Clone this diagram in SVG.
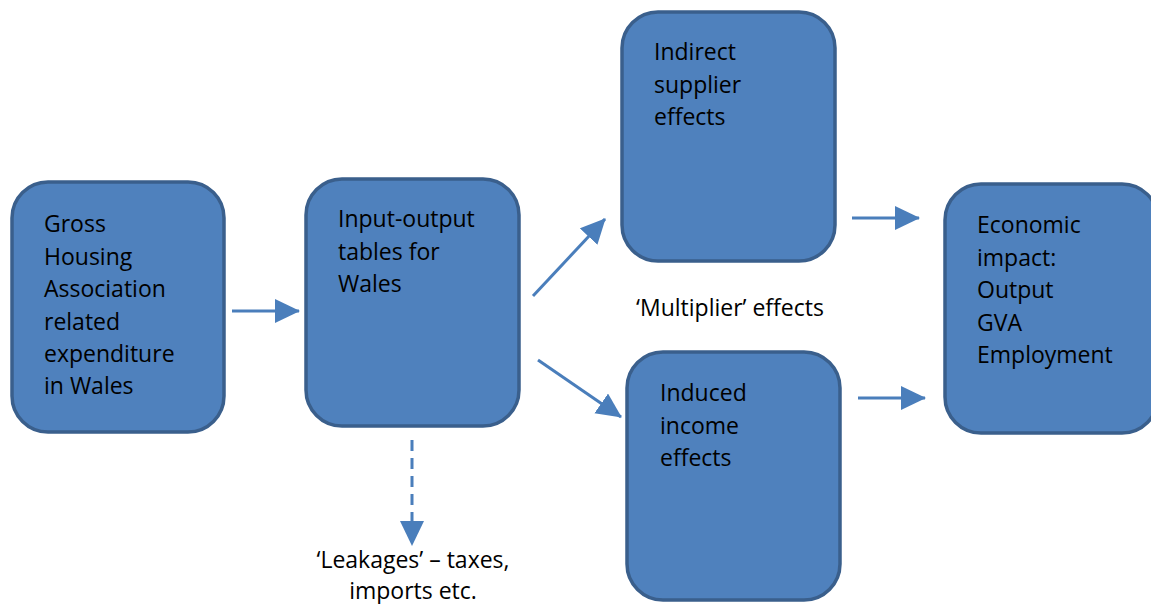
<svg xmlns="http://www.w3.org/2000/svg" width="1151" height="604" viewBox="0 0 1151 604">
<style>
.box{fill:#4F81BD;stroke:#3A5F8C;stroke-width:3.5}
.t{font-family:"Open Sans","Liberation Sans",sans-serif;font-size:23px;fill:#000}
.c{stroke:#4A7EBB;stroke-width:3;fill:none}
</style>
<defs>
<marker id="ah" markerUnits="userSpaceOnUse" markerWidth="26" markerHeight="26" refX="24" refY="12" orient="auto" viewBox="0 0 26 26">
<path d="M0,0 L25,12 L0,24 z" fill="#4A7EBB"/>
</marker>
</defs>
<rect width="1151" height="604" fill="#fff"/>
<g id="connectors">
<line class="c" x1="232" y1="311" x2="299" y2="311" marker-end="url(#ah)"/>
<line class="c" x1="533" y1="296" x2="605" y2="219" marker-end="url(#ah)"/>
<line class="c" x1="538" y1="360" x2="621" y2="417" marker-end="url(#ah)"/>
<line class="c" x1="852" y1="218" x2="919" y2="218" marker-end="url(#ah)"/>
<line class="c" x1="858" y1="398" x2="925" y2="398" marker-end="url(#ah)"/>
<line class="c" x1="412" y1="440" x2="412" y2="522" stroke-dasharray="11 7"/>
<path d="M400,521 L424,521 L412,546 z" fill="#4A7EBB"/>
</g>
<g id="gross">
<rect class="box" x="12" y="182" width="212" height="250" rx="36"/>
<text class="t"><tspan x="44" y="232">Gross</tspan><tspan x="44" y="264.5">Housing</tspan><tspan x="44" y="297">Association</tspan><tspan x="44" y="329.5">related</tspan><tspan x="44" y="362">expenditure</tspan><tspan x="44" y="394">in Wales</tspan></text>
</g>
<g id="io">
<rect class="box" x="306" y="179" width="213" height="247" rx="36"/>
<text class="t"><tspan x="338" y="227">Input-output</tspan><tspan x="338" y="259.5">tables for</tspan><tspan x="338" y="292">Wales</tspan></text>
</g>
<g id="indirect">
<rect class="box" x="622" y="12" width="213" height="249" rx="36"/>
<text class="t"><tspan x="654" y="60">Indirect</tspan><tspan x="654" y="92.5">supplier</tspan><tspan x="654" y="125">effects</tspan></text>
</g>
<g id="induced">
<rect class="box" x="627" y="352" width="213" height="248" rx="36"/>
<text class="t"><tspan x="660" y="401">Induced</tspan><tspan x="660" y="433.5">income</tspan><tspan x="660" y="466">effects</tspan></text>
</g>
<g id="impact">
<rect class="box" x="945" y="184" width="213" height="249" rx="36"/>
<text class="t"><tspan x="977" y="233">Economic</tspan><tspan x="977" y="265.5">impact:</tspan><tspan x="977" y="298">Output</tspan><tspan x="977" y="330.5">GVA</tspan><tspan x="977" y="363">Employment</tspan></text>
</g>
<g id="labels">
<text class="t" x="730" y="316" text-anchor="middle">‘Multiplier’ effects</text>
<text class="t" x="413" y="568" text-anchor="middle">‘Leakages’ – taxes,</text>
<text class="t" x="413" y="599" text-anchor="middle">imports etc.</text>
</g>
</svg>
